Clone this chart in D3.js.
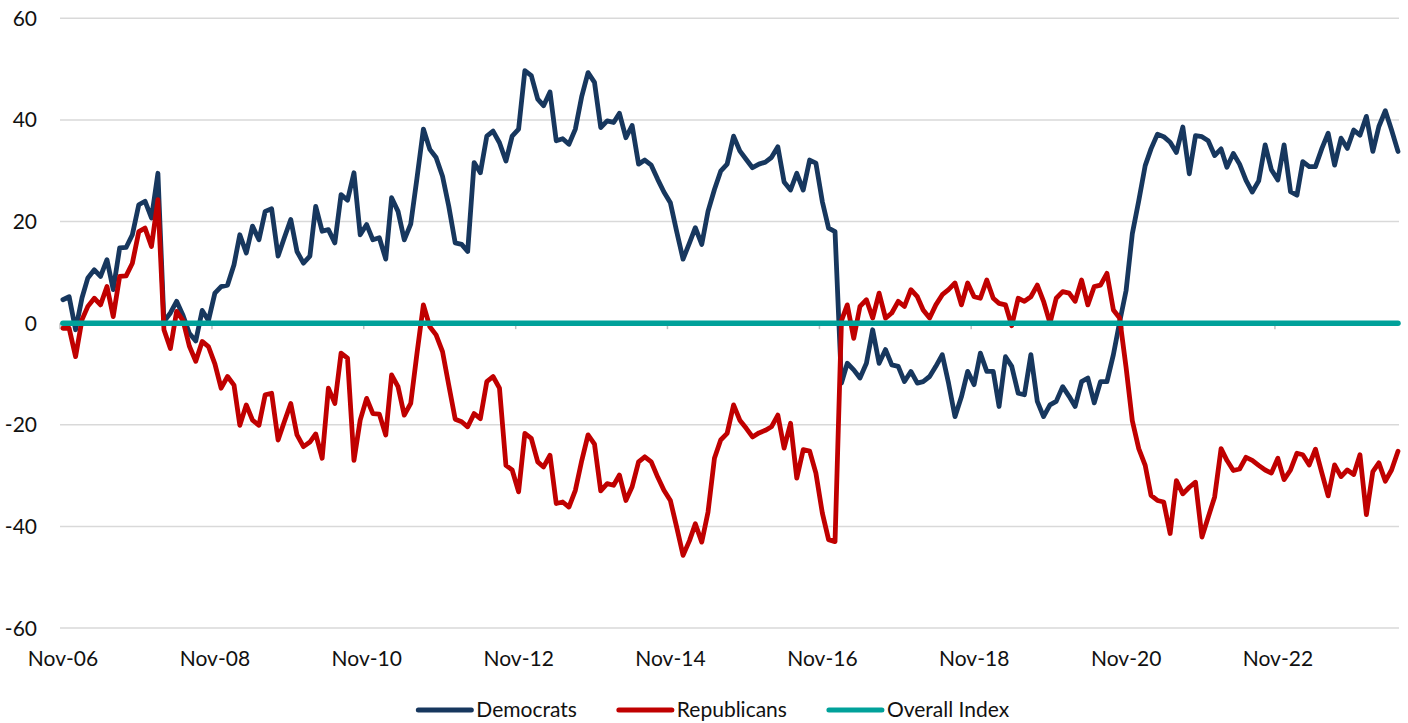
<!DOCTYPE html>
<html>
<head>
<meta charset="utf-8">
<script src="https://cdn.jsdelivr.net/npm/d3@7"></script>
<style>
  html, body { margin: 0; padding: 0; background: #fff; }
  svg { display: block; }
  text { font-family: Lato, "Open Sans", sans-serif; fill: #111; }
</style>
</head>
<body>
<svg id="chart" width="1408" height="723"></svg>
<script>
// monthly readings, Nov-06 .. Jun-24
var democrats = [
  4.6, 5.2, -1.3, 5, 8.9, 10.5, 9.2, 12.5, 6.6, 14.8, 14.9, 17.4, 23.3, 24, 20.7, 29.5,
  0.3, 2, 4.3, 1.5, -2, -3.5, 2.5, 0.5, 5.9, 7.2, 7.5, 11.5, 17.4, 13.8, 19.1, 16.4,
  22, 22.5, 13.2, 16.8, 20.4, 14.1, 11.8, 13.2, 23, 18.1, 18.4, 15.8, 25.3, 24.2, 29.6, 17.4,
  19.4, 16.4, 16.8, 12.6, 24.7, 22, 16.4, 19.5, 28.5, 38.2, 34.2, 32.6, 28.9, 23, 15.8, 15.5,
  14.1, 31.6, 29.6, 36.8, 37.8, 35.5, 31.9, 36.8, 38.2, 49.7, 48.7, 44.1, 42.8, 45.5, 35.9, 36.3,
  35.2, 38.2, 44.7, 49.3, 47.4, 38.5, 39.8, 39.5, 41.3, 36.5, 38.9, 31.3, 32.1, 31.1, 28.3, 25.8,
  23.7, 18.1, 12.6, 15.8, 18.8, 15.5, 22, 26.3, 29.9, 31.3, 36.8, 33.9, 32.2, 30.6, 31.3, 31.7,
  32.6, 34.7, 27.8, 26.2, 29.5, 26.2, 32.1, 31.5, 23.9, 18.7, 18, -11.8, -7.9, -9.2, -10.8, -7.9,
  -1.3, -7.9, -5.2, -8.2, -8.5, -11.5, -9.5, -11.8, -11.5, -10.5, -8.5, -6.2, -11.8, -18.4, -14.5, -9.5,
  -12.1, -5.9, -9.5, -9.5, -16.4, -6.6, -8.5, -13.8, -14.1, -6.2, -15.4, -18.4, -16.1, -15.4, -12.5, -14.4,
  -16.4, -11.5, -10.8, -15.7, -11.5, -11.5, -6.2, 0.2, 6.4, 17.6, 24.1, 31, 34.3, 37.2, 36.7, 35.6,
  33.6, 38.6, 29.4, 36.9, 36.7, 35.9, 33, 34.3, 30.7, 33.4, 31.3, 28.1, 25.8, 28, 35.1, 30.2,
  28.2, 35.1, 25.9, 25.2, 31.8, 30.8, 30.8, 34.4, 37.4, 31.1, 36.4, 34.4, 38, 37, 40.7, 33.8,
  38.7, 41.8, 38, 33.8
];

var republicans = [
  -1, -1, -6.6, 0.7, 3.3, 4.9, 3.6, 7.2, 1.3, 9.2, 9.3, 11.8, 18, 18.7, 15.1, 24.3,
  -1.3, -5, 2.3, 0.5, -4.5, -7.5, -3.6, -4.6, -8, -12.8, -10.5, -12.2, -20.1, -16.1, -19.1, -20.1,
  -14.1, -13.8, -23, -19.4, -15.8, -22, -24.3, -23.4, -21.8, -26.6, -12.8, -15.8, -5.9, -6.9, -27, -19.1,
  -14.8, -17.8, -17.9, -22, -10.2, -12.5, -18.1, -15.8, -6, 3.6, -0.7, -2.3, -5.6, -12.2, -18.9, -19.4,
  -20.4, -17.8, -18.8, -11.5, -10.5, -12.8, -28, -28.9, -33.2, -21.7, -22.7, -27.3, -28.3, -26, -35.5, -35.2,
  -36.2, -32.9, -27, -22, -23.8, -33, -31.6, -31.9, -29.9, -34.9, -32.2, -27.3, -26.3, -27.3, -30.3, -32.9,
  -34.9, -40.1, -45.7, -42.8, -39.5, -43.1, -37.2, -26.6, -23, -21.7, -16.1, -19.1, -20.7, -22.4, -21.6, -21.1,
  -20.4, -18.1, -24.6, -19.7, -30.5, -24.9, -25.2, -29.5, -37.4, -42.6, -43, 0.5, 3.6, -3, 3.3, 4.6,
  1, 5.9, 1, 2, 4.3, 3.3, 6.6, 5.2, 2.6, 1, 3.6, 5.6, 6.6, 7.9, 3.6, 7.9,
  5.2, 4.9, 8.5, 4.9, 3.9, 3.6, -0.5, 4.9, 4.3, 5.2, 7.5, 4.3, 0, 4.9, 6.2, 5.9,
  4.3, 8.5, 3.6, 7.2, 7.5, 9.8, 2.6, 1, -8.7, -19.2, -24.7, -28, -33.9, -34.9, -35.2, -41.4,
  -31, -33.6, -32.3, -31.3, -42.1, -38.2, -34.2, -24.7, -27, -29, -28.7, -26.4, -27, -28, -28.9, -29.5,
  -26.6, -30.8, -28.9, -25.6, -25.9, -27.9, -24.8, -29.5, -34, -27.9, -30.2, -28.9, -29.8, -25.9, -37.7, -29.2,
  -27.5, -31.1, -28.9, -25.2
];

var overallIndex = democrats.map(function() { return 0; });

var yTicks = [-60, -40, -20, 0, 20, 40, 60];
var xTickYears = [2006, 2008, 2010, 2012, 2014, 2016, 2018, 2020, 2022];

var seriesNames = ["Democrats", "Republicans", "Overall Index"];
var seriesColors = ["#17375e", "#c00000", "#00a19a"];

var svg = d3.select("#chart");

var months = democrats.map(function(d, i) { return new Date(Date.UTC(2006, 10 + i, 15)); });

var x = d3.scaleUtc()
    .domain([new Date(Date.UTC(2006, 10, 1)), new Date(Date.UTC(2024, 5, 15))])
    .range([60, 1398]);

var y = d3.scaleLinear()
    .domain([-60, 60])
    .range([628, 18.3]);

// gridlines
svg.append("g")
  .selectAll("line")
  .data(yTicks)
  .enter().append("line")
    .attr("x1", 60)
    .attr("x2", 1399)
    .attr("y1", function(d) { return y(d); })
    .attr("y2", function(d) { return y(d); })
    .attr("stroke", "#d9d9d9")
    .attr("stroke-width", 1.5);

// y labels
svg.append("g")
  .selectAll("text")
  .data(yTicks)
  .enter().append("text")
    .attr("x", 37)
    .attr("y", function(d) { return y(d); })
    .attr("dy", "0.36em")
    .attr("text-anchor", "end")
    .attr("font-size", "21px")
    .text(function(d) { return d; });

// x axis tick marks sit on the zero line
var xTicks = xTickYears.map(function(yr) { return new Date(Date.UTC(yr, 10, 1)); });
svg.append("g")
  .selectAll("line")
  .data(xTicks)
  .enter().append("line")
    .attr("x1", function(d) { return x(d); })
    .attr("x2", function(d) { return x(d); })
    .attr("y1", y(0))
    .attr("y2", y(0) + 6)
    .attr("stroke", "#bfbfbf")
    .attr("stroke-width", 1.5);

var fmt = d3.utcFormat("%b-%y");
svg.append("g")
  .selectAll("text")
  .data(xTicks)
  .enter().append("text")
    .attr("x", function(d) { return x(d) + 3; })
    .attr("y", 666)
    .attr("text-anchor", "middle")
    .attr("font-size", "21px")
    .text(function(d) { return fmt(d); });

var line = d3.line()
    .x(function(d, i) { return x(months[i]); })
    .y(function(d) { return y(d); });

var allSeries = [democrats, republicans, overallIndex];
var widths = [4.8, 4.8, 5.5];

svg.append("g")
  .selectAll("path")
  .data(allSeries)
  .enter().append("path")
    .attr("d", line)
    .attr("fill", "none")
    .attr("stroke", function(d, i) { return seriesColors[i]; })
    .attr("stroke-width", function(d, i) { return widths[i]; })
    .attr("stroke-linejoin", "round")
    .attr("stroke-linecap", "round");

// legend
var legendY = 709;
var legend = svg.append("g");
var items = legend.selectAll("g")
    .data(seriesNames)
    .enter().append("g");

items.append("line")
    .attr("x1", 0)
    .attr("x2", 53)
    .attr("y1", legendY + 1)
    .attr("y2", legendY + 1)
    .attr("stroke", function(d, i) { return seriesColors[i]; })
    .attr("stroke-width", 5)
    .attr("stroke-linecap", "round");

items.append("text")
    .attr("x", 58)
    .attr("y", legendY)
    .attr("dy", "0.36em")
    .attr("font-size", "21px")
    .text(function(d) { return d; });

var pos = 0, gap = 42, itemX = [];
items.each(function() {
  itemX.push(pos);
  pos += this.getBBox().width + gap;
});
var total = pos - gap;
var start = 714 - total / 2;
items.attr("transform", function(d, i) { return "translate(" + (start + itemX[i]) + ",0)"; });
</script>
</body>
</html>
